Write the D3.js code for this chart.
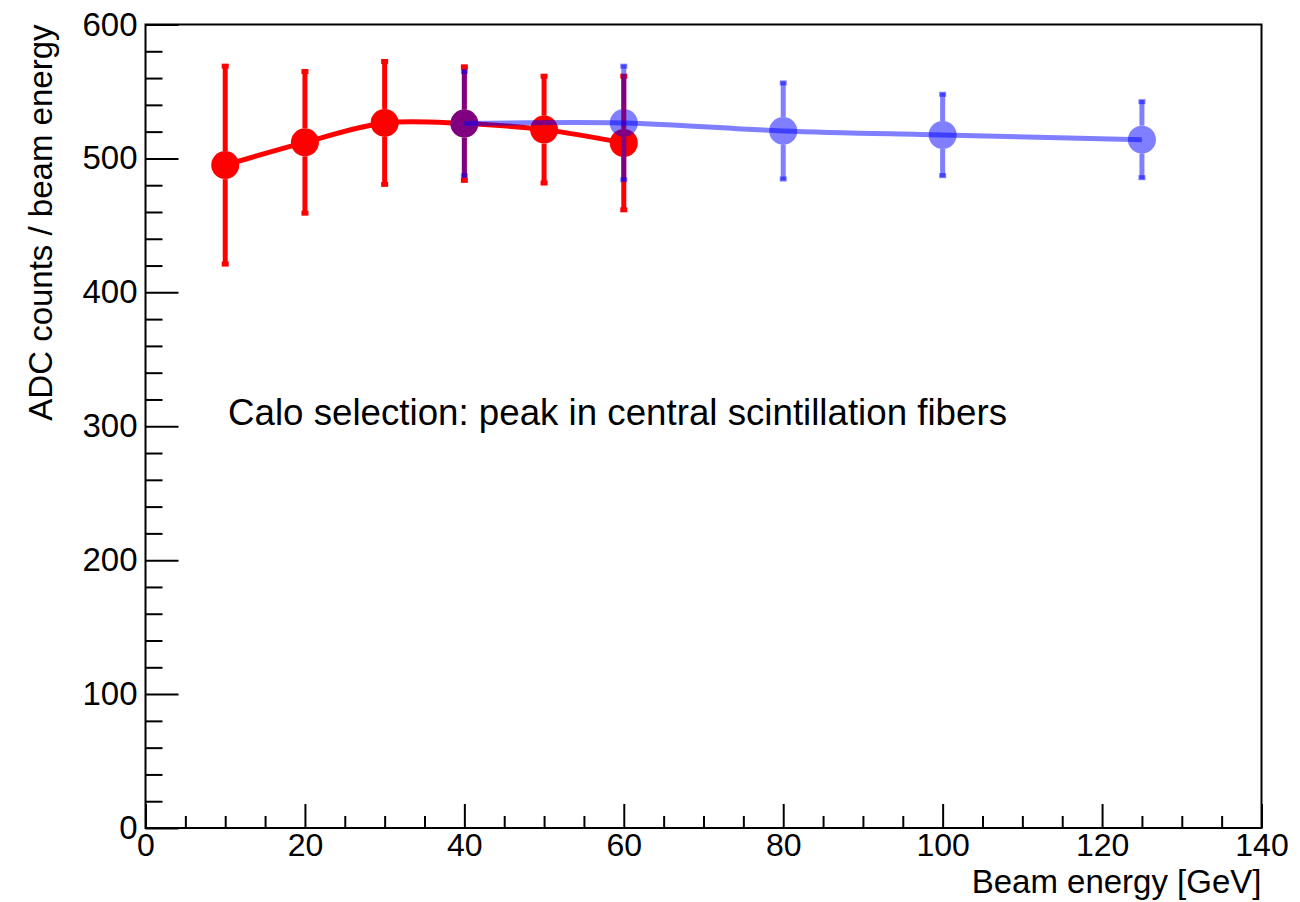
<!DOCTYPE html>
<html lang="en">
<head>
<meta charset="utf-8">
<title>ADC counts / beam energy</title>
<script src="https://d3js.org/d3.v7.min.js"></script>
<style>
  body { margin: 0; background: #fff; }
  svg text { font-family: "Liberation Sans", Arial, Helvetica, sans-serif; fill: #000; }
  .axis path { display: none; }
  .axis line { stroke: #000; stroke-width: 2; }
  .axis text { font-size: 33px; }
  .xaxis text { font-size: 32px; }
</style>
</head>
<body>
<script>
// data
var redEnergy = [10, 20, 30, 40, 50, 60];
var redValue  = [495, 512, 526.5, 526, 521.5, 511.5];
var redError  = [75, 54, 47, 43.5, 41, 51];

var blueEnergy = [40, 60, 80, 100, 125];
var blueValue  = [526, 526.5, 520.5, 517.5, 514];
var blueError  = [40, 43.5, 37, 31.5, 29.5];

var xMajor = [0, 20, 40, 60, 80, 100, 120, 140];
var yMajor = [0, 100, 200, 300, 400, 500, 600];

var W = 1300, H = 902;
var margin = {left: 145.5, right: 38.5, top: 24.5, bottom: 74};

var svg = d3.select("body").append("svg")
    .attr("width", W)
    .attr("height", H);

var x = d3.scaleLinear().domain([0, 140]).range([margin.left, W - margin.right]);
var y = d3.scaleLinear().domain([0, 600]).range([H - margin.bottom, margin.top]);

var xMinor = d3.range(0, 141, 5).filter(function(v) { return xMajor.indexOf(v) < 0; });
var yMinor = d3.range(0, 601, 20).filter(function(v) { return yMajor.indexOf(v) < 0; });

// axes (ticks point inward, ROOT style)
svg.append("g").attr("class", "axis")
    .attr("transform", "translate(0," + y(0) + ")")
    .call(d3.axisBottom(x).tickValues(xMinor).tickSize(-12).tickFormat(""));
svg.append("g").attr("class", "axis xaxis")
    .attr("transform", "translate(0," + y(0) + ")")
    .call(d3.axisBottom(x).tickValues(xMajor).tickSize(-24).tickPadding(5).tickFormat(d3.format("d")));

svg.append("g").attr("class", "axis")
    .attr("transform", "translate(" + x(0) + ",0)")
    .call(d3.axisLeft(y).tickValues(yMinor).tickSize(-17).tickFormat(""));
svg.append("g").attr("class", "axis")
    .attr("transform", "translate(" + x(0) + ",0)")
    .call(d3.axisLeft(y).tickValues(yMajor).tickSize(-33).tickPadding(8).tickFormat(d3.format("d")));

// frame
svg.append("rect")
    .attr("x", x(0)).attr("y", y(600))
    .attr("width", x(140) - x(0)).attr("height", y(0) - y(600))
    .attr("fill", "none").attr("stroke", "#000").attr("stroke-width", 2);

// axis titles
svg.append("text")
    .attr("x", x(140)).attr("y", 893)
    .attr("text-anchor", "end")
    .style("font-size", "33px")
    .text("Beam energy [GeV]");

svg.append("text")
    .attr("transform", "translate(52," + y(600) + ") rotate(-90)")
    .attr("text-anchor", "end")
    .style("font-size", "33px")
    .text("ADC counts / beam energy");

svg.append("text")
    .attr("x", 228).attr("y", 425)
    .style("font-size", "36.7px")
    .text("Calo selection: peak in central scintillation fibers");

var R = 14;
var line = d3.line()
    .x(function(d) { return x(d.e); })
    .y(function(d) { return y(d.v); })
    .curve(d3.curveCatmullRom.alpha(0.5));

function drawSeries(energy, value, error, color) {
    var pts = energy.map(function(e, i) { return {e: e, v: value[i], err: error[i]}; });
    var g = svg.append("g");

    g.append("path")
        .datum(pts)
        .attr("d", line)
        .attr("fill", "none")
        .attr("stroke", color)
        .attr("stroke-width", 5);

    var bars = g.selectAll(".bar").data(pts).enter().append("g");
    // upper part of the bar
    bars.append("line")
        .attr("x1", function(d) { return x(d.e); })
        .attr("x2", function(d) { return x(d.e); })
        .attr("y1", function(d) { return y(d.v + d.err); })
        .attr("y2", function(d) { return y(d.v) - R; })
        .attr("stroke", color).attr("stroke-width", 5);
    // lower part
    bars.append("line")
        .attr("x1", function(d) { return x(d.e); })
        .attr("x2", function(d) { return x(d.e); })
        .attr("y1", function(d) { return y(d.v) + R; })
        .attr("y2", function(d) { return y(d.v - d.err); })
        .attr("stroke", color).attr("stroke-width", 5);
    // end caps
    bars.append("rect")
        .attr("x", function(d) { return x(d.e) - 3.5; })
        .attr("y", function(d) { return y(d.v + d.err) - 1; })
        .attr("width", 7).attr("height", 5)
        .attr("fill", color);
    bars.append("rect")
        .attr("x", function(d) { return x(d.e) - 3.5; })
        .attr("y", function(d) { return y(d.v - d.err) - 4; })
        .attr("width", 7).attr("height", 5)
        .attr("fill", color);

    g.selectAll(".dot").data(pts).enter().append("circle")
        .attr("cx", function(d) { return x(d.e); })
        .attr("cy", function(d) { return y(d.v); })
        .attr("r", R)
        .attr("fill", color);
}

drawSeries(redEnergy, redValue, redError, "#ff0000");
drawSeries(blueEnergy, blueValue, blueError, "rgba(0,0,255,0.5)");
</script>
</body>
</html>
